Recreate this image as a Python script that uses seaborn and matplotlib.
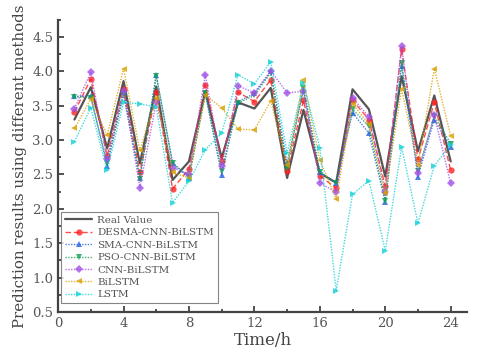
import numpy as np
import pandas as pd
import matplotlib
matplotlib.use("Agg")
import matplotlib.pyplot as plt
from matplotlib.ticker import MultipleLocator
import seaborn as sns

# data
hours = list(range(1, 25))
real_value = [3.30, 3.77, 2.88, 3.86, 2.66, 3.78, 2.42, 2.69, 3.71, 2.74, 3.55, 3.46,
              3.76, 2.45, 3.44, 2.52, 2.38, 3.74, 3.45, 2.47, 3.93, 2.84, 3.65, 2.69]
desma_cnn_bilstm = [3.41, 3.89, 2.77, 3.75, 2.53, 3.70, 2.29, 2.58, 3.81, 2.70, 3.70, 3.56,
                    3.88, 2.55, 3.58, 2.48, 2.30, 3.58, 3.30, 2.33, 4.32, 2.72, 3.55, 2.56]
sma_cnn_bilstm = [3.64, 3.64, 2.62, 3.70, 2.45, 3.95, 2.66, 2.45, 3.68, 2.49, 3.56, 3.68,
                  4.00, 2.67, 3.73, 2.53, 2.37, 3.40, 3.10, 2.10, 4.08, 2.47, 3.30, 2.90]
pso_cnn_bilstm = [3.63, 3.62, 2.67, 3.66, 2.43, 3.94, 2.67, 2.47, 3.68, 2.55, 3.54, 3.65,
                  3.98, 2.60, 3.76, 2.53, 2.38, 3.45, 3.20, 2.12, 4.13, 2.55, 3.35, 2.95]
cnn_bilstm = [3.46, 3.99, 2.72, 3.72, 2.31, 3.55, 2.60, 2.50, 3.95, 2.62, 3.79, 3.69,
              4.01, 3.69, 3.71, 2.38, 2.24, 3.62, 3.34, 2.25, 4.37, 2.52, 3.36, 2.37]
bilstm = [3.17, 3.60, 3.07, 4.04, 2.85, 3.61, 2.53, 2.45, 3.66, 3.47, 3.16, 3.15,
          3.57, 2.64, 3.87, 2.71, 2.14, 3.53, 3.23, 2.23, 3.74, 2.64, 4.04, 3.06]
lstm = [2.98, 3.47, 2.56, 3.55, 3.53, 3.48, 2.09, 2.40, 2.86, 3.10, 3.95, 3.82,
        4.14, 2.81, 3.83, 2.89, 0.81, 2.21, 2.41, 1.39, 2.90, 1.79, 2.63, 2.93]

sns.set_style("ticks")
plt.rcParams['font.family'] = ['DejaVu Serif']

fig = plt.figure(figsize=(4.8, 3.56), dpi=100)
ax = fig.add_axes([0.121, 0.124, 0.852, 0.82])

sns.lineplot(x=hours, y=real_value, ax=ax, color="#555555", lw=1.6, label="Real Value")

styles = [
    ("DESMA-CNN-BiLSTM", desma_cnn_bilstm, "#ff2020", "o", (4, 2)),
    ("SMA-CNN-BiLSTM", sma_cnn_bilstm, "#2060e0", "^", (1, 1)),
    ("PSO-CNN-BiLSTM", pso_cnn_bilstm, "#10a050", "v", (1, 1)),
    ("CNN-BiLSTM", cnn_bilstm, "#a050e8", "D", (1, 1)),
    ("BiLSTM", bilstm, "#d8a000", "<", (1, 1)),
    ("LSTM", lstm, "#10d0d8", ">", (1, 1)),
]
for name, vals, col, mk, dash in styles:
    sns.lineplot(x=hours, y=vals, ax=ax, color=col, lw=1.0, marker=mk,
                 markersize=4.5, markeredgewidth=0, label=name, alpha=0.8)
    ax.lines[-1].set_dashes(dash)

ax.set_xlim(0, 25)
ax.set_ylim(0.5, 4.75)
ax.xaxis.set_major_locator(MultipleLocator(4))
ax.xaxis.set_minor_locator(MultipleLocator(2))
ax.yaxis.set_major_locator(MultipleLocator(0.5))
ax.yaxis.set_minor_locator(MultipleLocator(0.25))
ax.tick_params(which="both", direction="in", color="#333333", width=1.2, labelsize=9.5,
               labelcolor="#555555")
ax.tick_params(which="major", length=4)
ax.tick_params(which="minor", length=2)
for s in ["top", "right"]:
    ax.spines[s].set_visible(False)
for s in ["left", "bottom"]:
    ax.spines[s].set_color("#444444")
    ax.spines[s].set_linewidth(1.6)

ax.set_xlabel("Time/h", fontsize=12, color="#444444", labelpad=2)
ax.set_ylabel("Prediction results using different methods", fontsize=10.8,
              color="#444444", labelpad=4)

leg = ax.legend(loc="lower left", bbox_to_anchor=(0.008, 0.03), fontsize=7.5,
                frameon=True, fancybox=False, handlelength=2.6, borderaxespad=0,
                labelspacing=0.3, borderpad=0.35, handletextpad=0.5)
leg.get_frame().set_edgecolor("#666666")
leg.get_frame().set_linewidth(0.8)
for t in leg.get_texts():
    t.set_color("#555555")

fig.savefig("out.png", dpi=100)
